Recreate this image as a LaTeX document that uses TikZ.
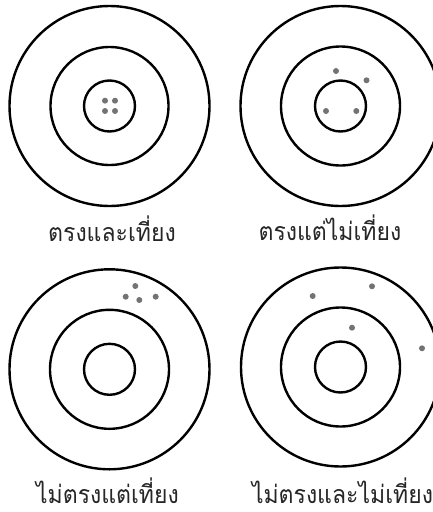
\documentclass[tikz,border=0pt]{standalone}
\usepackage{fontspec}
\newfontfamily\thaifont[Script=Thai,FakeStretch=0.92]{Loma}
\begin{document}
\begin{tikzpicture}[x=1pt,y=-1pt,
  ring/.style={draw=black,line width=2.4pt},
  shot/.style={circle,fill=black!55,inner sep=0pt,minimum size=6pt},
  lbl/.style={font=\thaifont\fontsize{25}{28}\selectfont,anchor=base,inner sep=0pt,text depth=0pt,text=black!85}]
\useasboundingbox (0,0) rectangle (433,512);
\clip (0,0) rectangle (433,512);
% target 1
\coordinate (c1) at (109.5,106);
\draw[ring] (c1) circle[radius=100];
\draw[ring] (c1) circle[radius=59];
\draw[ring] (c1) circle[radius=25.5];
\node[shot] (d11) at (105,100.7) {};
\node[shot] (d12) at (115,100.7) {};
\node[shot] (d13) at (105,111) {};
\node[shot] (d14) at (115,111) {};
\node[lbl] (l1) at (112,241) {ตรงและเที่ยง};
% target 2
\coordinate (c2) at (340.5,106);
\draw[ring] (c2) circle[radius=100];
\draw[ring] (c2) circle[radius=59.5];
\draw[ring] (c2) circle[radius=25.5];
\node[shot] (d21) at (336,71) {};
\node[shot] (d22) at (366.5,80.3) {};
\node[shot] (d23) at (326,111) {};
\node[shot] (d24) at (356.3,111) {};
\node[lbl] (l2) at (330,240) {ตรงแต่ไม่เที่ยง};
% target 3
\coordinate (c3) at (109.5,369.3);
\draw[ring] (c3) circle[radius=100];
\draw[ring] (c3) circle[radius=59.5];
\draw[ring] (c3) circle[radius=25.5];
\node[shot] (d31) at (135.3,286) {};
\node[shot] (d32) at (125.7,296.7) {};
\node[shot] (d33) at (139.3,300) {};
\node[shot] (d34) at (155.7,296.7) {};
\node[lbl] (l3) at (107.5,503.5) {ไม่ตรงแต่เที่ยง};
% target 4
\coordinate (c4) at (340.5,367);
\draw[ring] (c4) circle[radius=99.5];
\draw[ring] (c4) circle[radius=59.5];
\draw[ring] (c4) circle[radius=25.5];
\node[shot] (d41) at (312.7,296) {};
\node[shot] (d42) at (372,286.3) {};
\node[shot] (d43) at (352,327.7) {};
\node[shot] (d44) at (422,348.3) {};
\node[lbl] (l4) at (342.5,503.5) {ไม่ตรงและไม่เที่ยง};
\end{tikzpicture}
\end{document}
